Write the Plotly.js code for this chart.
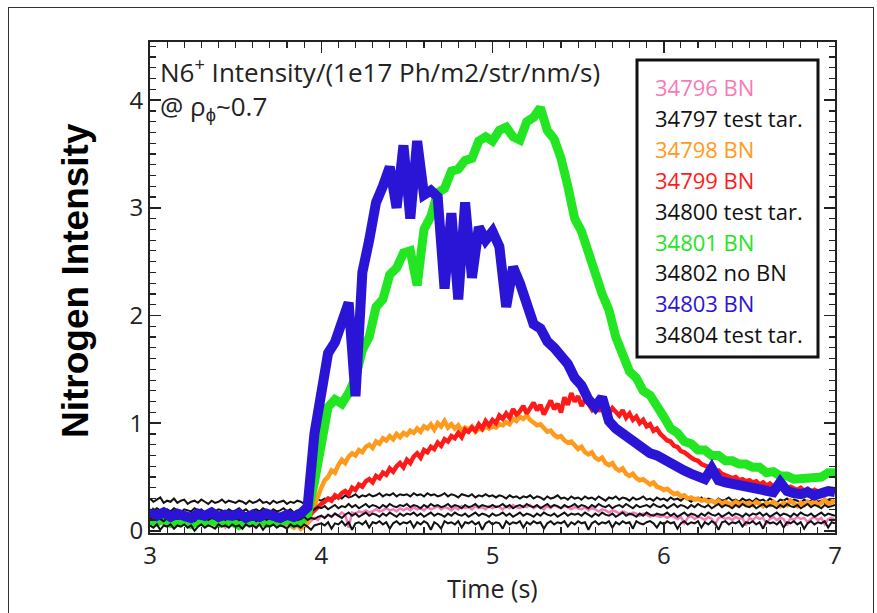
<!DOCTYPE html>
<html>
<head>
<meta charset="utf-8">
<script src="https://cdn.plot.ly/plotly-3.0.1.min.js"></script>
<style>
html,body{margin:0;padding:0;background:#fff;overflow:hidden;}
#wrap{position:relative;width:877px;height:613px;}
#chart{width:877px;height:613px;}
#frame{position:absolute;left:8px;top:7px;width:864px;height:640px;border:1.5px solid #333;pointer-events:none;}
</style>
</head>
<body>
<div id="wrap"><div id="chart"></div><div id="frame"></div></div>
<script>
// Time grids (s)
const tThin = [
3.00,3.02,3.04,3.06,3.08,3.10,3.12,3.14,3.16,3.18,3.20,3.22,3.24,3.26,3.28,3.30,3.32,3.34,3.36,3.38,3.40,3.42,3.44,3.46,3.48,
3.50,3.52,3.54,3.56,3.58,3.60,3.62,3.64,3.66,3.68,3.70,3.72,3.74,3.76,3.78,3.80,3.82,3.84,3.86,3.88,3.90,3.92,3.94,3.96,3.98,
4.00,4.02,4.04,4.06,4.08,4.10,4.12,4.14,4.16,4.18,4.20,4.22,4.24,4.26,4.28,4.30,4.32,4.34,4.36,4.38,4.40,4.42,4.44,4.46,4.48,
4.50,4.52,4.54,4.56,4.58,4.60,4.62,4.64,4.66,4.68,4.70,4.72,4.74,4.76,4.78,4.80,4.82,4.84,4.86,4.88,4.90,4.92,4.94,4.96,4.98,
5.00,5.02,5.04,5.06,5.08,5.10,5.12,5.14,5.16,5.18,5.20,5.22,5.24,5.26,5.28,5.30,5.32,5.34,5.36,5.38,5.40,5.42,5.44,5.46,5.48,
5.50,5.52,5.54,5.56,5.58,5.60,5.62,5.64,5.66,5.68,5.70,5.72,5.74,5.76,5.78,5.80,5.82,5.84,5.86,5.88,5.90,5.92,5.94,5.96,5.98,
6.00,6.02,6.04,6.06,6.08,6.10,6.12,6.14,6.16,6.18,6.20,6.22,6.24,6.26,6.28,6.30,6.32,6.34,6.36,6.38,6.40,6.42,6.44,6.46,6.48,
6.50,6.52,6.54,6.56,6.58,6.60,6.62,6.64,6.66,6.68,6.70,6.72,6.74,6.76,6.78,6.80,6.82,6.84,6.86,6.88,6.90,6.92,6.94,6.96,6.98,
7.00];
const tThick = [
3.00,3.04,3.08,3.12,3.16,3.20,3.24,3.28,3.32,3.36,3.40,3.44,3.48,3.52,3.56,3.60,3.64,3.68,3.72,3.76,3.80,3.84,3.88,3.92,3.96,
4.00,4.04,4.08,4.12,4.16,4.20,4.24,4.28,4.32,4.36,4.40,4.44,4.48,4.52,4.56,4.60,4.64,4.68,4.72,4.76,4.80,4.84,4.88,4.92,4.96,
5.00,5.04,5.08,5.12,5.16,5.20,5.24,5.28,5.32,5.36,5.40,5.44,5.48,5.52,5.56,5.60,5.64,5.68,5.72,5.76,5.80,5.84,5.88,5.92,5.96,
6.00,6.04,6.08,6.12,6.16,6.20,6.24,6.28,6.32,6.36,6.40,6.44,6.48,6.52,6.56,6.60,6.64,6.68,6.72,6.76,6.80,6.84,6.88,6.92,6.96,
7.00];

// Shot labels (legend text)
const shotLabels = ["34796 BN","34797 test tar.","34798 BN","34799 BN","34800 test tar.","34801 BN","34802 no BN","34803 BN","34804 test tar."];
const shotColors = ["#f77ab8","#111111","#ff9a1c","#ff1a1a","#111111","#22e622","#111111","#2a14d6","#111111"];

// N6+ intensity (1e17 Ph/m2/str/nm/s)
const s34796 = [
0.08,0.10,0.07,0.09,0.06,0.09,0.08,0.10,0.07,0.09,0.08,0.05,0.09,0.07,0.10,0.08,0.06,0.09,0.08,0.10,0.07,0.09,0.03,0.08,0.07,
0.09,0.08,0.10,0.06,0.09,0.07,0.02,0.09,0.08,0.10,0.07,0.09,0.08,0.06,0.09,0.03,0.08,0.10,0.07,0.09,0.08,0.06,0.09,0.12,0.10,
0.14,0.12,0.15,0.13,0.16,0.14,0.17,0.15,0.03,0.17,0.16,0.18,0.17,0.19,0.17,0.18,0.20,0.18,0.19,0.21,0.19,0.20,0.18,0.21,0.19,
0.21,0.19,0.22,0.20,0.21,0.19,0.22,0.20,0.21,0.23,0.20,0.22,0.21,0.19,0.22,0.20,0.23,0.21,0.22,0.20,0.23,0.21,0.22,0.20,0.23,
0.21,0.23,0.22,0.20,0.23,0.21,0.24,0.22,0.21,0.23,0.22,0.24,0.21,0.23,0.22,0.20,0.23,0.21,0.24,0.22,0.21,0.23,0.22,0.20,0.22,
0.21,0.20,0.22,0.19,0.21,0.20,0.18,0.20,0.19,0.17,0.19,0.18,0.16,0.18,0.17,0.15,0.17,0.16,0.14,0.16,0.15,0.13,0.15,0.14,0.13,
0.14,0.12,0.14,0.13,0.11,0.13,0.07,0.12,0.14,0.11,0.13,0.12,0.10,0.13,0.11,0.06,0.12,0.13,0.11,0.12,0.10,0.13,0.11,0.12,0.05,
0.12,0.10,0.13,0.11,0.12,0.07,0.11,0.13,0.10,0.12,0.11,0.05,0.12,0.10,0.13,0.11,0.12,0.08,0.11,0.13,0.10,0.12,0.06,0.11,0.12,
0.10];
const s34797 = [
0.30,0.27,0.29,0.31,0.26,0.28,0.27,0.30,0.26,0.28,0.29,0.25,0.27,0.28,0.26,0.29,0.27,0.25,0.28,0.26,0.27,0.29,0.26,0.28,0.27,
0.26,0.28,0.27,0.25,0.28,0.26,0.27,0.29,0.26,0.27,0.25,0.28,0.26,0.27,0.28,0.25,0.27,0.26,0.28,0.27,0.25,0.27,0.26,0.28,0.29,
0.28,0.30,0.29,0.31,0.30,0.32,0.30,0.33,0.31,0.32,0.34,0.31,0.33,0.32,0.34,0.32,0.33,0.35,0.32,0.34,0.33,0.35,0.32,0.34,0.33,
0.34,0.32,0.35,0.33,0.34,0.32,0.35,0.33,0.34,0.32,0.33,0.35,0.32,0.34,0.33,0.31,0.34,0.33,0.32,0.34,0.31,0.33,0.32,0.34,0.32,
0.33,0.31,0.33,0.32,0.30,0.33,0.31,0.32,0.30,0.32,0.31,0.33,0.30,0.32,0.31,0.29,0.32,0.30,0.31,0.33,0.30,0.31,0.29,0.32,0.30,
0.31,0.29,0.32,0.30,0.31,0.29,0.32,0.30,0.28,0.31,0.30,0.32,0.29,0.31,0.30,0.28,0.31,0.29,0.30,0.32,0.29,0.30,0.28,0.31,0.29,
0.30,0.28,0.31,0.29,0.30,0.28,0.31,0.29,0.27,0.30,0.29,0.31,0.28,0.30,0.29,0.27,0.30,0.28,0.29,0.31,0.28,0.29,0.27,0.30,0.28,
0.29,0.27,0.30,0.28,0.29,0.27,0.30,0.28,0.26,0.29,0.28,0.30,0.27,0.29,0.28,0.26,0.29,0.27,0.28,0.30,0.27,0.28,0.26,0.29,0.28,
0.27];
const s34798 = [
0.10,0.12,0.09,0.11,0.13,0.10,0.12,0.11,0.09,0.12,0.10,0.13,0.11,0.10,0.12,0.09,0.11,0.13,0.10,0.12,0.11,0.09,0.12,0.10,0.11,
0.12,0.10,0.11,0.09,0.12,0.10,0.11,0.08,0.10,0.11,0.09,0.10,0.08,0.09,0.07,0.08,0.05,0.03,0.06,0.02,0.04,0.08,0.15,0.24,0.33,
0.40,0.47,0.50,0.56,0.54,0.61,0.66,0.63,0.69,0.72,0.70,0.75,0.73,0.78,0.80,0.77,0.83,0.81,0.86,0.84,0.88,0.85,0.90,0.87,0.91,
0.89,0.93,0.91,0.95,0.92,0.97,0.95,0.99,0.94,1.00,0.97,1.02,0.96,0.99,0.95,0.98,0.93,0.96,0.94,0.97,0.92,0.95,0.94,0.97,0.95,
0.97,0.96,0.99,0.98,1.01,0.99,1.04,1.02,1.06,1.04,1.07,1.03,1.01,0.98,0.99,0.95,0.92,0.93,0.89,0.87,0.88,0.84,0.82,0.83,0.79,
0.76,0.78,0.73,0.71,0.73,0.68,0.66,0.68,0.63,0.61,0.63,0.58,0.56,0.58,0.53,0.51,0.53,0.49,0.47,0.48,0.45,0.43,0.45,0.41,0.40,
0.38,0.39,0.36,0.34,0.35,0.32,0.33,0.30,0.31,0.29,0.30,0.28,0.29,0.27,0.28,0.26,0.28,0.25,0.27,0.26,0.24,0.27,0.25,0.26,0.24,
0.26,0.24,0.27,0.25,0.23,0.26,0.24,0.27,0.25,0.23,0.26,0.24,0.28,0.25,0.23,0.26,0.24,0.27,0.25,0.28,0.24,0.26,0.29,0.25,0.27,
0.28];
const s34799 = [
0.13,0.11,0.14,0.12,0.10,0.13,0.12,0.14,0.11,0.13,0.12,0.10,0.13,0.11,0.14,0.12,0.13,0.11,0.10,0.13,0.12,0.14,0.11,0.12,0.13,
0.11,0.13,0.12,0.10,0.13,0.11,0.12,0.14,0.11,0.13,0.10,0.12,0.11,0.13,0.12,0.10,0.12,0.11,0.13,0.12,0.11,0.13,0.16,0.20,0.23,
0.25,0.27,0.30,0.28,0.33,0.31,0.35,0.37,0.34,0.40,0.38,0.43,0.41,0.46,0.48,0.45,0.51,0.49,0.54,0.52,0.58,0.55,0.60,0.63,0.59,
0.66,0.63,0.69,0.72,0.68,0.75,0.73,0.78,0.76,0.82,0.79,0.85,0.83,0.88,0.86,0.91,0.87,0.94,0.92,0.96,0.93,0.99,0.95,1.02,0.98,
1.03,1.00,1.07,1.04,1.09,1.05,1.13,1.08,1.11,1.16,1.09,1.14,1.19,1.12,1.17,1.08,1.15,1.21,1.13,1.18,1.10,1.24,1.17,1.28,1.20,
1.25,1.16,1.22,1.18,1.13,1.19,1.11,1.16,1.12,1.09,1.14,1.10,1.07,1.12,1.05,1.09,1.03,1.06,1.00,1.03,0.97,0.99,0.93,0.95,0.90,
0.87,0.84,0.83,0.79,0.78,0.74,0.73,0.70,0.68,0.66,0.65,0.62,0.61,0.59,0.58,0.55,0.56,0.53,0.52,0.51,0.49,0.50,0.47,0.48,0.46,
0.47,0.45,0.46,0.43,0.45,0.42,0.44,0.41,0.43,0.40,0.42,0.39,0.41,0.40,0.38,0.40,0.37,0.39,0.36,0.38,0.37,0.35,0.38,0.36,0.37,
0.36];
const s34800 = [
0.20,0.18,0.21,0.19,0.17,0.20,0.18,0.21,0.19,0.17,0.20,0.19,0.18,0.21,0.19,0.20,0.17,0.19,0.21,0.18,0.20,0.19,0.17,0.20,0.18,
0.19,0.21,0.18,0.20,0.17,0.19,0.20,0.18,0.21,0.19,0.17,0.20,0.18,0.19,0.21,0.18,0.20,0.17,0.19,0.18,0.20,0.19,0.18,0.20,0.22,
0.21,0.23,0.20,0.22,0.24,0.21,0.23,0.22,0.25,0.22,0.24,0.21,0.23,0.25,0.22,0.24,0.23,0.21,0.24,0.22,0.25,0.23,0.22,0.24,0.23,
0.25,0.22,0.24,0.23,0.21,0.24,0.22,0.25,0.23,0.24,0.22,0.23,0.25,0.22,0.24,0.23,0.21,0.24,0.22,0.23,0.25,0.22,0.24,0.23,0.22,
0.24,0.22,0.23,0.25,0.22,0.24,0.21,0.23,0.24,0.22,0.25,0.23,0.22,0.24,0.21,0.23,0.25,0.22,0.24,0.23,0.21,0.24,0.22,0.23,0.25,
0.22,0.24,0.23,0.21,0.24,0.22,0.25,0.23,0.22,0.24,0.21,0.23,0.24,0.22,0.25,0.23,0.21,0.24,0.22,0.23,0.24,0.22,0.25,0.23,0.22,
0.24,0.21,0.23,0.25,0.22,0.24,0.23,0.21,0.24,0.22,0.25,0.23,0.22,0.24,0.21,0.23,0.25,0.22,0.24,0.23,0.21,0.24,0.22,0.25,0.23,
0.22,0.24,0.21,0.23,0.25,0.22,0.24,0.23,0.21,0.24,0.22,0.25,0.23,0.22,0.24,0.21,0.23,0.25,0.22,0.24,0.23,0.21,0.24,0.22,0.23,
0.24];
const s34801 = [
0.10,0.08,0.11,0.07,0.09,0.10,0.06,0.09,0.08,0.10,0.07,0.09,0.08,0.05,0.09,0.08,0.10,0.07,0.09,0.08,0.10,0.07,0.09,0.15,0.45,
0.85,1.15,1.22,1.18,1.28,1.42,1.68,1.80,2.08,2.15,2.38,2.44,2.58,2.60,2.28,2.80,2.92,3.14,3.18,3.34,3.36,3.44,3.46,3.62,3.66,
3.62,3.72,3.75,3.66,3.63,3.80,3.84,3.93,3.72,3.64,3.46,3.20,2.90,2.78,2.58,2.44,2.20,2.05,1.80,1.64,1.48,1.42,1.30,1.26,1.14,
1.06,0.95,0.91,0.83,0.81,0.75,0.75,0.70,0.70,0.65,0.65,0.62,0.62,0.59,0.59,0.54,0.55,0.51,0.51,0.48,0.49,0.49,0.50,0.50,0.54,
0.54];
const s34802 = [
0.12,0.10,0.13,0.11,0.09,0.12,0.10,0.13,0.11,0.12,0.10,0.13,0.11,0.09,0.12,0.11,0.13,0.10,0.12,0.11,0.09,0.12,0.10,0.13,0.11,
0.12,0.10,0.11,0.13,0.10,0.12,0.09,0.11,0.13,0.10,0.12,0.11,0.09,0.12,0.10,0.13,0.11,0.12,0.10,0.11,0.13,0.10,0.12,0.11,0.13,
0.14,0.12,0.15,0.13,0.16,0.14,0.12,0.15,0.17,0.14,0.16,0.13,0.15,0.17,0.14,0.16,0.15,0.13,0.16,0.14,0.17,0.15,0.13,0.16,0.14,
0.16,0.15,0.17,0.14,0.16,0.13,0.15,0.17,0.14,0.16,0.15,0.13,0.16,0.14,0.17,0.15,0.14,0.16,0.13,0.15,0.17,0.14,0.16,0.15,0.13,
0.16,0.14,0.15,0.17,0.14,0.16,0.13,0.15,0.17,0.14,0.16,0.15,0.13,0.16,0.14,0.17,0.15,0.14,0.16,0.13,0.15,0.17,0.14,0.16,0.15,
0.16,0.14,0.17,0.15,0.13,0.16,0.14,0.17,0.15,0.14,0.16,0.13,0.15,0.17,0.14,0.16,0.15,0.13,0.16,0.14,0.17,0.15,0.14,0.16,0.15,
0.15,0.17,0.14,0.16,0.13,0.15,0.17,0.14,0.16,0.15,0.13,0.16,0.14,0.17,0.15,0.14,0.16,0.13,0.15,0.17,0.14,0.16,0.15,0.13,0.16,
0.14,0.16,0.15,0.17,0.14,0.16,0.13,0.15,0.17,0.14,0.16,0.15,0.13,0.16,0.14,0.17,0.15,0.14,0.16,0.13,0.15,0.17,0.14,0.16,0.15,
0.14];
const s34803 = [
0.18,0.14,0.17,0.13,0.16,0.15,0.12,0.16,0.14,0.17,0.13,0.15,0.14,0.16,0.12,0.15,0.13,0.16,0.14,0.12,0.15,0.13,0.16,0.22,0.90,
1.35,1.65,1.75,1.92,2.12,1.25,2.40,2.70,3.05,3.20,3.38,3.00,3.58,2.90,3.62,3.12,3.16,3.10,2.25,2.95,2.15,3.05,2.35,2.82,2.70,
2.78,2.64,2.08,2.45,2.30,2.10,1.92,1.88,1.76,1.70,1.62,1.55,1.42,1.35,1.22,1.15,1.24,1.02,0.95,0.90,0.86,0.80,0.76,0.72,0.70,
0.66,0.62,0.58,0.56,0.53,0.50,0.48,0.58,0.47,0.45,0.44,0.42,0.41,0.39,0.38,0.37,0.36,0.45,0.37,0.35,0.34,0.36,0.33,0.35,0.37,
0.36];
const s34804 = [
0.05,0.03,0.06,0.01,0.05,0.04,0.06,0.02,0.05,0.04,0.06,0.03,0.05,0.00,0.04,0.06,0.03,0.05,0.04,0.02,0.06,0.04,0.05,0.03,0.06,
0.04,0.05,0.02,0.06,0.04,0.05,0.03,0.06,0.01,0.05,0.04,0.06,0.03,0.05,0.04,0.02,0.06,0.04,0.05,0.03,0.06,0.04,0.01,0.05,0.06,
0.07,0.05,0.08,0.02,0.07,0.06,0.09,0.05,0.08,0.01,0.07,0.08,0.06,0.09,0.03,0.08,0.07,0.09,0.06,0.08,0.02,0.07,0.09,0.06,0.08,
0.07,0.09,0.03,0.08,0.06,0.09,0.07,0.01,0.08,0.06,0.02,0.09,0.07,0.08,0.06,0.09,0.03,0.08,0.07,0.09,0.06,0.08,0.01,0.07,0.09,
0.06,0.08,0.07,0.02,0.09,0.06,0.08,0.07,0.09,0.03,0.08,0.06,0.09,0.07,0.08,0.02,0.07,0.09,0.06,0.08,0.07,0.09,0.04,0.08,0.06,
0.09,0.07,0.08,0.01,0.07,0.09,0.06,0.08,0.07,0.09,0.03,0.08,0.06,0.09,0.07,0.08,0.02,0.09,0.07,0.06,0.08,0.09,0.07,0.03,0.08,
0.06,0.09,0.07,0.08,0.02,0.07,0.09,0.06,0.08,0.07,0.09,0.03,0.08,0.06,0.09,0.07,0.01,0.08,0.09,0.06,0.08,0.07,0.09,0.04,0.08,
0.07,0.09,0.06,0.08,0.02,0.09,0.07,0.08,0.06,0.09,0.03,0.08,0.07,0.09,0.06,0.08,0.02,0.07,0.09,0.06,0.08,0.07,0.09,0.03,0.08,
0.07];

const seriesY = [s34796,s34797,s34798,s34799,s34800,s34801,s34802,s34803,s34804];
const seriesX = [tThin,tThin,tThin,tThin,tThin,tThick,tThin,tThick,tThin];
const lineWidths = [2.5,2,4.5,4.5,2,9,2,10,2];

const traces = seriesY.map((y,i)=>({
  type:'scatter', mode:'lines', x:seriesX[i], y:y, name:shotLabels[i],
  line:{color:shotColors[i], width:lineWidths[i]}, hoverinfo:'skip'
}));

const FONT = 'Open Sans, Liberation Sans, sans-serif';
const legendY = [87,118,149,180,211,241.5,272,303,334];
const plotTop = 42, plotH = 491, plotL = 150, plotW = 685;
const annotations = shotLabels.map((lab,i)=>({
  xref:'paper', yref:'paper', x:(653-plotL)/plotW, y:1-(legendY[i]-plotTop)/plotH,
  xanchor:'left', yanchor:'middle', showarrow:false, text:lab,
  font:{family:FONT, size:22, color:shotColors[i]}
}));
annotations.push({
  xref:'paper', yref:'paper', x:(158-plotL)/plotW, y:1-(50-plotTop)/plotH,
  xanchor:'left', yanchor:'top', showarrow:false, align:'left',
  text:'N6<sup>+</sup> Intensity/(1e17 Ph/m2/str/nm/s)<br>@ ρ<sub>ϕ</sub>~0.7',
  font:{family:FONT, size:26, color:'#222'}
});
annotations.push({
  xref:'paper', yref:'paper', x:(75-plotL)/plotW, y:1-(281-plotTop)/plotH,
  xanchor:'center', yanchor:'middle', showarrow:false, textangle:-90,
  text:'<b>Nitrogen Intensity</b>',
  font:{family:'Liberation Sans, Arial, sans-serif', size:37, color:'#000'}
});

const layout = {
  width:877, height:613,
  margin:{l:plotL, r:877-plotL-plotW, t:plotTop, b:613-plotTop-plotH},
  paper_bgcolor:'#fff', plot_bgcolor:'#fff',
  showlegend:false,
  xaxis:{
    range:[3,7], tick0:3, dtick:1, ticks:'inside', ticklen:11, tickwidth:1.5, tickcolor:'#222',
    showline:true, linewidth:2, linecolor:'#222', mirror:'ticks', showgrid:false, zeroline:false,
    minor:{dtick:0.1, ticks:'inside', ticklen:6, tickwidth:1.2, tickcolor:'#222', showgrid:false},
    tickfont:{family:FONT, size:24, color:'#222'},
    title:{text:'Time (s)', font:{family:FONT, size:25, color:'#222'}, standoff:2}
  },
  yaxis:{
    range:[-0.02,4.54], tick0:0, dtick:1, ticks:'inside', ticklen:11, tickwidth:1.5, tickcolor:'#222',
    showline:true, linewidth:2, linecolor:'#222', mirror:'ticks', showgrid:false, zeroline:false,
    minor:{dtick:0.1, ticks:'inside', ticklen:6, tickwidth:1.2, tickcolor:'#222', showgrid:false},
    tickfont:{family:FONT, size:24, color:'#222'}
  },
  shapes:[{
    type:'rect', xref:'paper', yref:'paper',
    x0:(637-plotL)/plotW, x1:(818-plotL)/plotW, y0:1-(357-plotTop)/plotH, y1:1-(60-plotTop)/plotH,
    line:{color:'#111', width:3}, fillcolor:'rgba(255,255,255,1)', layer:'above'
  }],
  annotations:annotations
};

Plotly.newPlot('chart', traces, layout, {staticPlot:true, displayModeBar:false});
</script>
</body>
</html>
